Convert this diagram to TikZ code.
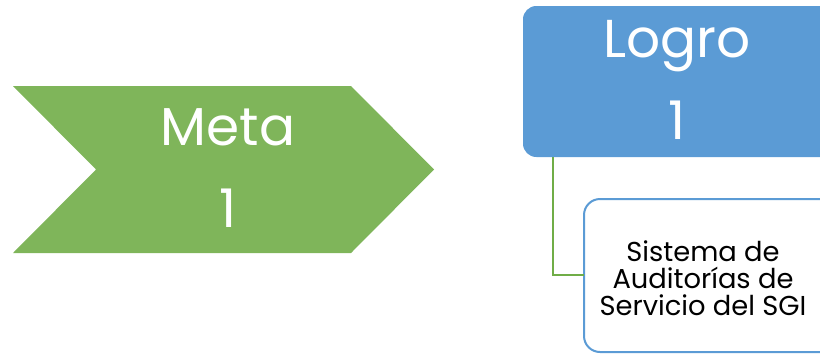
\documentclass[tikz,border=0pt]{standalone}
\usepackage{fontspec}
\setmainfont{Poppins}
\definecolor{metagreen}{RGB}{127,181,90}
\definecolor{logroblue}{RGB}{91,155,213}
\definecolor{linkgreen}{RGB}{112,173,71}
\tikzset{every picture/.style={line width=0.75pt}}

\begin{document}
\begin{tikzpicture}[x=0.75pt,y=0.75pt,yscale=-1,xscale=1]
\clip (0,0) rectangle (820,354);

%Shape: Chevron [id:meta]
\draw  [draw=none, fill=metagreen] (13,86) -- (351,86) -- (434,169.5) -- (351,253) -- (13,253) -- (96,169.5) -- cycle ;
%Rounded Rect [id:logro]
\draw  [draw=none, fill=logroblue, rounded corners=10] (523,6) rectangle (850,157) ;
%Rounded Rect [id:sistema]
\draw  [draw=logroblue, line width=1.5pt, fill=white, rounded corners=12] (584,199) rectangle (850,352) ;

% Text Node
\node (meta) at (228,168) [inner sep=0.75pt, align=center, text=white, font=\fontsize{40}{62}\selectfont] {Meta\\1};
% Text Node
\node (logro) at (677,80) [inner sep=0.75pt, align=center, text=white, font=\fontsize{40}{61}\selectfont] {Logro\\1};
% Text Node
\node (sistema) at (703,278) [inner sep=0.75pt, align=center, font=\fontsize{20.5}{20.3}\selectfont] {Sistema de\\Auditorías de\\Servicio del SGI};

%Connector
\draw [linkgreen, line width=1.5pt]  (553,157) |- (584,275) ;

\end{tikzpicture}
\end{document}
